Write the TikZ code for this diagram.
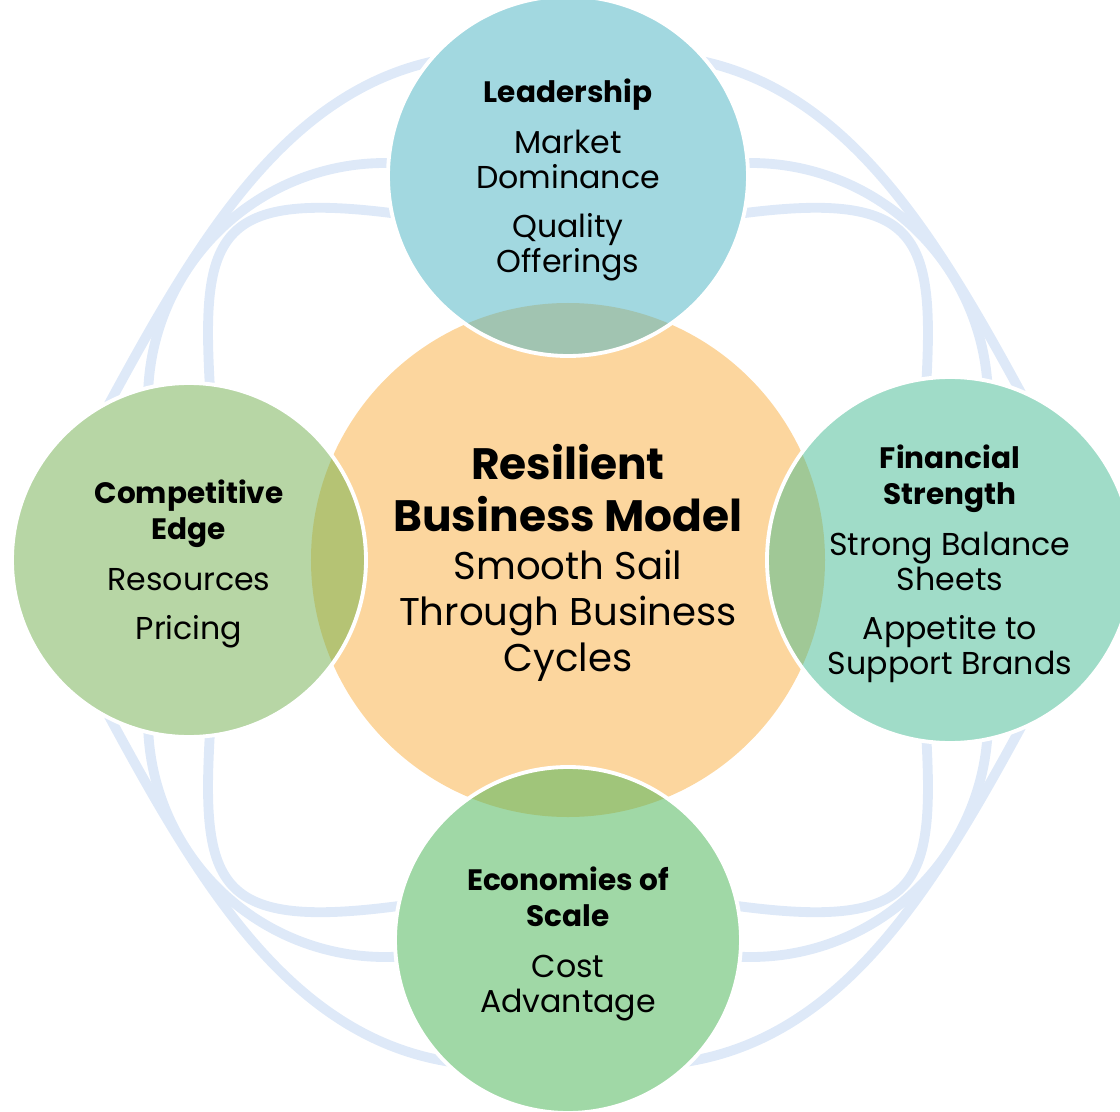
\documentclass[tikz,border=0pt]{standalone}
\usepackage{fontspec}
\setmainfont{Poppins}
\usepackage{tikz}
\definecolor{hubfill}{RGB}{252,214,158}
\definecolor{leadfill}{RGB}{162,216,224}
\definecolor{financefill}{RGB}{160,220,200}
\definecolor{econfill}{RGB}{160,216,166}
\definecolor{competfill}{RGB}{183,214,165}
\definecolor{leadmix}{RGB}{161,196,177}
\definecolor{financemix}{RGB}{160,200,150}
\definecolor{econmix}{RGB}{160,197,122}
\definecolor{competmix}{RGB}{181,195,116}
\definecolor{ringblue}{RGB}{222,233,248}
\tikzset{
	% Thin rings behind the bubbles and the white rim round each outer bubble
	ring arc/.style={draw=ringblue,line width=2.8pt},
	bubble rim/.style={draw=white,line width=1.1pt},
	% Text styles: outer bubbles and the hub
	bubble text/.style={align=center,yshift=-0.04cm,font=\fontsize{9}{10}\selectfont},
	hub text/.style={align=center,yshift=-0.03cm,font=\fontsize{11}{13.1}\selectfont}
}

\begin{document}
\begin{tikzpicture}
	\useasboundingbox (-5.68,-5.51) rectangle (5.52,5.60);
	% macro for the three ring arcs of the upper left corner
	\newcommand{\cornerarcs}{
		\draw[ring arc] (-1.10,5.03) .. controls (-2.79,4.81) and (-3.71,3.19) .. (-4.65,1.45);
		\draw[ring arc] (-1.83,1.60) ++(84:2.37) arc[start angle=84,end angle=182,radius=2.37];
		\draw[ring arc] (-1.55,3.44) .. controls (-3.58,3.735) and (-3.68,3.265) .. (-3.57,1.55);
	}
	% macros for title lines
	\newcommand{\hubtitle}[1]{{\fontsize{12.5}{14.8}\selectfont\bfseries #1}}
	\newcommand{\bubtitle}[1]{{\fontsize{8.4}{10}\selectfont\bfseries #1}}
	
	% the same arcs in all four corners
	\foreach \sx/\sy in {1/1,-1/1,1/-1,-1/-1}{
		\begin{scope}[xscale=\sx,yscale=\sy]
			\cornerarcs
		\end{scope}
	}
	
	% centres of the bubbles
	\coordinate (hub) at (0,0);
	\coordinate (lead) at (0,3.84);
	\coordinate (finance) at (3.82,0);
	\coordinate (econ) at (0,-3.80);
	\coordinate (compet) at (-3.79,0);
	
	\fill[hubfill] (hub) circle (2.57);
	\fill[leadfill] (lead) circle (1.80);
	\fill[financefill] (finance) circle (1.83);
	\fill[econfill] (econ) circle (1.73);
	\fill[competfill] (compet) circle (1.77);
	
	% where the outer bubbles lie over the hub
	\begin{scope}
		\clip (hub) circle (2.57);
		\fill[leadmix] (lead) circle (1.80);
		\fill[financemix] (finance) circle (1.83);
		\fill[econmix] (econ) circle (1.73);
		\fill[competmix] (compet) circle (1.77);
	\end{scope}
	
	\draw[bubble rim] (lead) circle (1.80);
	\draw[bubble rim] (finance) circle (1.83);
	\draw[bubble rim] (econ) circle (1.73);
	\draw[bubble rim] (compet) circle (1.77);
	
	% texts
	\node[hub text] (hub label) at (hub) {\hubtitle{Resilient}\\[1.7pt]\hubtitle{Business Model}\\[0.5pt]Smooth Sail\\Through Business\\Cycles};
	\node[bubble text] (lead label) at (lead) {\bubtitle{Leadership}\\[4.5pt]Market\\Dominance\\[4pt]Quality\\Offerings};
	\node[bubble text] (finance label) at (finance) {\bubtitle{Financial}\\\bubtitle{Strength}\\[4.5pt]Strong Balance\\Sheets\\[4pt]Appetite to\\Support Brands};
	\node[bubble text] (econ label) at (econ) {\bubtitle{Economies of}\\\bubtitle{Scale}\\[4.5pt]Cost\\Advantage};
	\node[bubble text] (compet label) at (compet) {\bubtitle{Competitive}\\\bubtitle{Edge}\\[4.5pt]Resources\\[4pt]Pricing};
\end{tikzpicture}
\end{document}
